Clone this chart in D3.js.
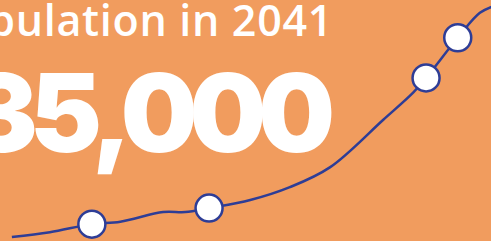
<!DOCTYPE html>
<html>
<head>
<meta charset="utf-8">
<script src="https://cdn.jsdelivr.net/npm/d3@7"></script>
<style>
  html, body { margin: 0; padding: 0; background: #f19c5e; overflow: hidden; }
  svg { display: block; }
</style>
</head>
<body>
<script>
// headline texts
var titleText = "Population in 2041";
var bigNumber = "35,000";

// population trend (year, thousands)
var years  = [1987.5, 1992.3, 1997.6, 2001.2, 2006.6, 2009.4, 2012.4, 2017.6, 2022.6, 2027.7, 2034.4, 2038.2, 2039.8, 2043.8, 2046.6, 2048.5];
var values = [10.5,   11.1,   12.1,   12.4,   13.6,   13.6,   14.1,   15.1,   16.7,   19.2,   25.1,   28.5,   30.3,   35.3,   38.4,   39.3];
// which points get a marker
var markers = [2, 6, 12, 13];

var width = 491,
    height = 241;

var svg = d3.select("body")
    .append("svg")
    .attr("width", width)
    .attr("height", height);

svg.append("rect")
    .attr("width", width)
    .attr("height", height)
    .attr("fill", "#f19c5e");

var x = d3.scaleLinear().domain([1986, 2048]).range([0, width]);
var y = d3.scaleLinear().domain([10, 40]).range([height, 0]);

var pts = years.map(function(d, i){ return [d, values[i]]; });

//title
svg.append("text")
    .attr("x", 333)
    .attr("y", 36)
    .attr("text-anchor", "end")
    .attr("fill", "#fff")
    .style("font-family", "'Open Sans', sans-serif")
    .style("font-weight", 600)
    .style("font-size", "43px")
    .style("letter-spacing", "0.7px")
    .text(titleText);

//big number
svg.append("text")
    .attr("x", 327)
    .attr("y", 152)
    .attr("text-anchor", "end")
    .attr("fill", "#fff")
    .style("font-family", "Inter, sans-serif")
    .style("font-weight", 900)
    .style("font-size", "108px")
    .style("letter-spacing", "-8px")
    .text(bigNumber);

var line = d3.line()
    .x(function(d){ return x(d[0]); })
    .y(function(d){ return y(d[1]); })
    .curve(d3.curveCatmullRom);

svg.append("path")
    .datum(pts)
    .attr("d", line)
    .attr("fill", "none")
    .attr("stroke", "#2e3d96")
    .attr("stroke-width", 2.5);

svg.selectAll(".dot")
    .data(markers.map(function(i){ return pts[i]; }))
    .enter()
    .append("circle")
    .attr("class", "dot")
    .attr("cx", function(d){ return x(d[0]); })
    .attr("cy", function(d){ return y(d[1]); })
    .attr("r", 13.5)
    .attr("fill", "#fff")
    .attr("stroke", "#2e3d96")
    .attr("stroke-width", 2.5);
</script>
</body>
</html>
